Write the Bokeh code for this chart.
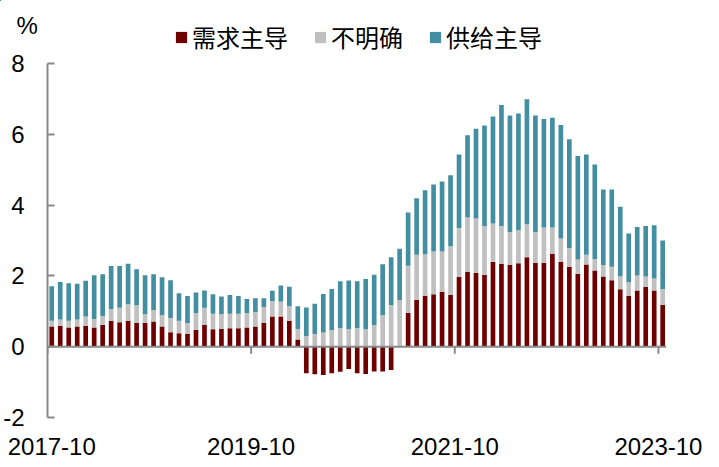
import pandas as pd
from bokeh.plotting import figure
from bokeh.layouts import column
from bokeh.models import (Range1d, FixedTicker, Span, Legend, LegendItem, Label,
                          ColumnDataSource)
from bokeh.embed import file_html
from bokeh.resources import INLINE

months = [d.strftime("%Y-%m") for d in pd.date_range("2017-10-01", "2023-10-01", freq="MS")]

# 需求主导 (demand-driven)
demand = [0.57, 0.59, 0.54, 0.57, 0.59, 0.54, 0.61, 0.73, 0.69, 0.73,
          0.68, 0.68, 0.71, 0.57, 0.41, 0.38, 0.36, 0.47, 0.62, 0.49,
          0.51, 0.52, 0.52, 0.54, 0.57, 0.68, 0.85, 0.85, 0.73, 0.20,
          -0.75, -0.78, -0.80, -0.75, -0.71, -0.63, -0.75, -0.77, -0.70, -0.70,
          -0.66, 0.00, 0.95, 1.32, 1.44, 1.48, 1.55, 1.46, 1.97, 2.11,
          2.08, 2.03, 2.39, 2.34, 2.31, 2.36, 2.53, 2.37, 2.37, 2.62,
          2.39, 2.26, 2.06, 2.32, 2.15, 1.98, 1.88, 1.62, 1.44, 1.59,
          1.69, 1.59, 1.18]
# 不明确 (unclear)
unclear = [0.16, 0.18, 0.19, 0.20, 0.26, 0.24, 0.26, 0.33, 0.41, 0.47,
           0.49, 0.24, 0.33, 0.32, 0.40, 0.35, 0.31, 0.48, 0.48, 0.44,
           0.41, 0.41, 0.41, 0.41, 0.41, 0.44, 0.44, 0.42, 0.41, 0.30,
           0.30, 0.36, 0.40, 0.47, 0.52, 0.49, 0.52, 0.49, 0.61, 0.89,
           1.18, 1.31, 1.34, 1.28, 1.17, 1.21, 1.14, 1.38, 1.38, 1.54,
           1.54, 1.38, 1.09, 1.07, 0.93, 0.93, 0.93, 0.87, 1.00, 0.75,
           0.67, 0.52, 0.40, 0.28, 0.33, 0.33, 0.38, 0.37, 0.38, 0.42,
           0.29, 0.34, 0.45]
# 供给主导 (supply-driven)
supply = [0.98, 1.06, 1.06, 1.01, 1.01, 1.24, 1.18, 1.22, 1.18, 1.14,
          1.02, 1.10, 1.01, 1.07, 1.07, 0.78, 0.76, 0.58, 0.49, 0.55,
          0.50, 0.53, 0.50, 0.40, 0.39, 0.25, 0.29, 0.46, 0.55, 0.64,
          0.81, 0.85, 1.09, 1.16, 1.33, 1.38, 1.33, 1.42, 1.42, 1.44,
          1.35, 1.46, 1.50, 1.59, 1.81, 1.89, 1.98, 2.00, 2.08, 2.32,
          2.54, 2.84, 3.02, 3.42, 3.29, 3.30, 3.53, 3.29, 3.06, 3.10,
          3.20, 3.08, 2.93, 2.83, 2.67, 2.13, 2.18, 1.96, 1.38, 1.37,
          1.43, 1.50, 1.37]

tick_labels = ["2017-10", "2019-10", "2021-10", "2023-10"]
y_ticks = [-2, 0, 2, 4, 6, 8]
series_names = ["需求主导", "不明确", "供给主导"]
colors = ["#6E0000", "#C0C0C0", "#448EA2"]
unit_label = "%"

x = list(range(len(months)))
base = [max(v, 0.0) for v in demand]
u_top = [b + u for b, u in zip(base, unclear)]
s_top = [a + s for a, s in zip(u_top, supply)]

src = ColumnDataSource(dict(x=x, d=demand, zero=[0.0] * len(x), base=base,
                            u_top=u_top, s_top=s_top))

W = 719
TOP_H = 52
OFF = 1000  # header strip ranges start here, so the legend proxies fall far outside them

# ---- header strip: unit label + legend ----
head = figure(width=W, height=TOP_H, output_backend="svg", toolbar_location=None,
              x_range=Range1d(OFF, OFF + W), y_range=Range1d(OFF + TOP_H, OFF),
              x_axis_location=None, y_axis_location=None, min_border=0)
head.frame_align = False
head.outline_line_color = None
head.xgrid.visible = False
head.ygrid.visible = False

# legend proxies: same series, lying outside the header's visible ranges
legend_rs = [head.vbar(x="x", bottom=b, top=t, width=0.55, source=src,
                       fill_color=c, line_color=None)
             for b, t, c in zip(["zero", "base", "u_top"], ["d", "u_top", "s_top"], colors)]
legend = Legend(items=[LegendItem(label=n, renderers=[r]) for n, r in zip(series_names, legend_rs)],
                orientation="horizontal", location=(174, -2),
                glyph_width=14, glyph_height=14, label_standoff=4, spacing=25,
                padding=0, margin=0, border_line_color=None, background_fill_alpha=0,
                label_text_font="Noto Sans CJK SC", label_text_font_size="24px",
                label_text_color="black")
head.add_layout(legend)
head.add_layout(Label(x=OFF + 16, y=OFF + 25, text=unit_label, text_font="Liberation Sans",
                      text_font_size="24px", text_align="left", text_baseline="middle",
                      text_color="black"))

# ---- main chart ----
p = figure(width=W, height=467 - TOP_H, output_backend="svg", toolbar_location=None,
           x_range=Range1d(-0.5, 72.45), y_range=Range1d(-2, 8),
           min_border_left=46, min_border_right=53, min_border_top=63 - TOP_H,
           min_border_bottom=50)
p.frame_align = False
p.outline_line_color = None
p.xgrid.visible = False
p.ygrid.visible = False

w = 0.55
p.vbar(x="x", bottom="zero", top="d", width=w, source=src, fill_color=colors[0], line_color=None)
p.vbar(x="x", bottom="base", top="u_top", width=w, source=src, fill_color=colors[1], line_color=None)
p.vbar(x="x", bottom="u_top", top="s_top", width=w, source=src, fill_color=colors[2], line_color=None)

axis_col = "#898989"
tick_pos = [months.index(t) - 0.5 for t in tick_labels]
label_pos = [max(t, 0.0) for t in tick_pos]

# zero line with tick marks
p.add_layout(Span(location=0, dimension="width", line_color=axis_col, line_width=2))
p.segment(x0=tick_pos, x1=tick_pos, y0=[0] * len(tick_pos), y1=[-0.2] * len(tick_pos),
          line_color=axis_col, line_width=2)

xa = p.xaxis[0]
xa.ticker = FixedTicker(ticks=label_pos)
xa.major_label_overrides = {pos: lab for pos, lab in zip(label_pos, tick_labels)}
xa.axis_line_color = None
xa.major_tick_line_color = None
xa.minor_tick_line_color = None
xa.major_label_text_font = "Liberation Sans"
xa.major_label_text_font_size = "24px"
xa.major_label_text_color = "black"
xa.major_label_standoff = 14

ya = p.yaxis[0]
ya.ticker = FixedTicker(ticks=y_ticks)
ya.major_label_overrides = {t: str(t) for t in y_ticks}
ya.axis_line_color = axis_col
ya.axis_line_width = 2
ya.major_tick_line_color = axis_col
ya.major_tick_line_width = 2
ya.major_tick_in = 7
ya.major_tick_out = 0
ya.minor_tick_line_color = None
ya.major_label_text_font = "Liberation Sans"
ya.major_label_text_font_size = "24px"
ya.major_label_text_color = "black"
ya.major_label_standoff = 23

layout = column(head, p, spacing=0)
open("out.html", "w").write(file_html(layout, INLINE))
